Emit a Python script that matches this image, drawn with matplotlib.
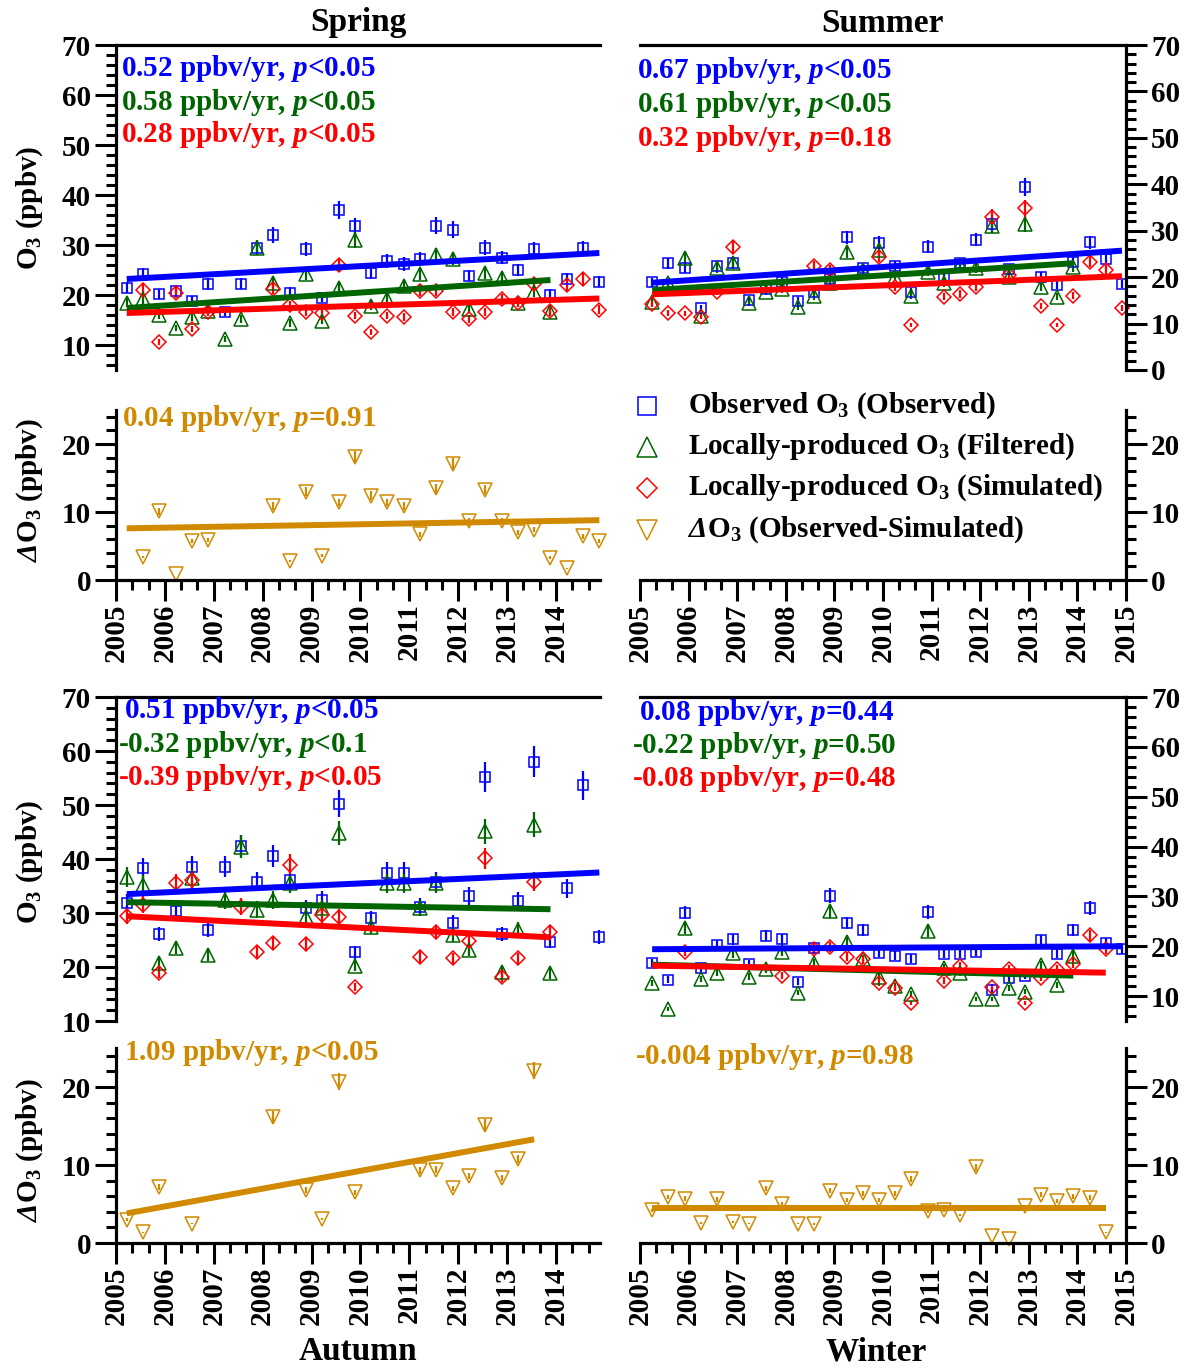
import numpy as np
import matplotlib
matplotlib.use("Agg")
import matplotlib.pyplot as plt
from matplotlib.ticker import MultipleLocator, FormatStrFormatter
from matplotlib.lines import Line2D

nan = np.nan

# ---------------- data ----------------
years = list(range(2005, 2015))
season_offset = {"Spring": 0.22, "Summer": 0.25, "Autumn": 0.22, "Winter": 0.25}

spring_obs = [21.5, 24.2, 20.2, 20.9, 18.9, 22.2, 16.6, 22.3, 29.5, 32.0, 20.5, 29.2, 19.5, 37.0, 33.8,
              24.5, 26.8, 26.2, 27.2, 33.9, 33.1, 23.9, 29.5, 27.5, 25.0, 29.2, 20.1, 23.3, 29.4, 22.7]
spring_filt = [18.5, 19.2, 16.1, 13.4, 15.6, 16.9, 11.2, 15.2, 29.5, 22.5, 14.4, 24.2, 14.9, 21.5, 31.0,
               17.9, 19.2, 21.9, 24.2, 28.0, 27.3, 17.2, 24.4, 23.5, 18.5, 20.6, 16.6, nan, nan, nan]
spring_sim = [nan, 21.1, 10.6, 20.5, 13.2, 16.6, nan, nan, nan, 21.2, 18.0, 16.6, 16.4, 26.0, 15.9,
              12.6, 15.9, 15.6, 20.9, 20.9, 16.6, 15.2, 16.6, 19.2, 18.5, 22.2, 16.9, 22.0, 23.2, 17.1]
spring_delta = [nan, 3.4, 10.1, 0.9, 5.8, 5.9, nan, nan, nan, 10.9, 2.8, 13.0, 3.6, 11.4, 18.1,
                12.4, 11.4, 10.9, 6.7, 13.5, 17.1, 8.7, 13.3, 8.7, 7.0, 7.4, 3.3, 1.7, 6.4, 5.8]

summer_obs = [18.9, 23.0, 21.9, 13.3, 22.3, 23.1, 15.1, 17.4, 19.0, 14.9, 16.9, 19.7, 28.6, 21.9, 27.4,
              22.4, 16.9, 26.6, 20.1, 23.0, 28.1, 31.4, 21.8, 39.4, 20.1, 18.3, 23.3, 27.5, 24.0, 18.5]
summer_filt = [14.7, 18.7, 24.1, 11.6, 21.9, 23.0, 14.4, 16.9, 17.4, 13.6, 15.9, 18.7, 25.4, 21.5, 25.9,
               20.1, 16.0, 21.2, 18.8, 22.6, 22.0, 31.0, 20.1, 31.4, 17.9, 15.8, 22.2, nan, nan, nan]
summer_sim = [14.2, 12.3, 12.2, 11.5, 16.9, 26.4, nan, nan, nan, nan, 22.4, 21.5, nan, nan, 24.4,
              17.9, 9.7, nan, 15.8, 16.4, 17.8, 33.0, 20.5, 34.8, 13.8, 9.7, 16.0, 23.3, 21.5, 13.4]
summer_delta = [nan] * 30

autumn_obs = [31.9, 38.3, 26.1, 30.4, 38.6, 26.9, 38.6, 42.4, 35.8, 40.6, 36.2, 30.9, 32.5, 50.2, 22.7,
              29.0, 37.5, 37.5, 31.2, 35.8, 28.2, 33.2, 55.2, 26.1, 32.3, 58.0, 24.7, 34.6, 53.7, 25.6]
autumn_filt = [36.7, 35.2, 20.7, 23.5, 36.4, 22.2, 32.4, 42.3, 30.6, 32.4, 35.5, 29.3, 30.9, 44.8, 20.2,
               27.5, 35.5, 35.5, 30.9, 35.5, 25.9, 23.1, 45.1, 19.1, 26.9, 46.3, 18.8, nan, nan, nan]
autumn_sim = [29.4, 31.5, 18.9, 35.5, 36.1, nan, nan, 31.2, 22.8, 24.5, 38.9, 24.2, 29.6, 29.3, 16.3,
              nan, nan, nan, 21.9, 26.5, 21.6, 24.8, 40.1, 18.2, 21.6, 35.8, 26.5, nan, nan, nan]
autumn_delta = [3.0, 1.4, 7.2, nan, 2.5, nan, nan, nan, nan, 16.1, nan, 6.8, 3.1, 20.7, 6.5,
                nan, nan, nan, 9.3, 9.4, 7.0, 8.6, 15.1, 8.3, 10.8, 22.1, nan, nan, nan, nan]

winter_obs = [16.7, 13.3, 26.7, 15.7, 20.2, 21.4, 16.4, 22.1, 21.4, 12.9, 19.7, 30.1, 24.6, 23.3, 18.7,
              18.1, 17.5, 26.9, 18.5, 18.5, 18.9, 11.2, 13.6, 14.1, 21.2, 18.5, 23.3, 27.6, 20.7, 19.5]
winter_filt = [12.6, 7.4, 23.7, 13.4, 14.7, 18.6, 13.9, 15.4, 18.9, 10.7, 16.6, 27.1, 20.9, 17.4, 13.9,
               12.1, 10.4, 23.1, 15.7, 14.7, 9.4, 9.4, 11.7, 10.9, 16.2, 12.2, 18.1, nan, nan, nan]
winter_sim = [nan, nan, 18.9, nan, nan, nan, nan, nan, 14.1, nan, 19.4, 19.9, 17.9, 17.4, 12.7,
              11.7, 8.6, nan, 13.1, 16.1, nan, 11.9, 15.5, 8.6, 13.7, 15.4, 16.4, 22.2, 19.5, nan]
winter_delta = [4.2, 5.9, 5.7, 2.6, 5.6, 2.7, 2.5, 7.0, 5.0, 2.5, 2.4, 6.7, 5.5, 6.4, 5.5,
                6.4, 8.2, 4.1, 4.2, 3.6, 9.7, 0.9, 0.5, 4.7, 6.2, 5.4, 6.0, 5.8, 1.4, nan]

# fitted trend lines: (value at first month, value at last valid month) for obs, filt, sim, delta
spring_trend = [(23.2, 28.4), (17.4, 23.0), (16.4, 19.3), (7.6, 8.8)]
summer_trend = [(18.8, 25.7), (17.2, 23.0), (16.3, 20.2), None]
autumn_trend = [(33.5, 37.5), (32.0, 30.7), (29.4, 25.5), (3.8, 13.3)]
winter_trend = [(19.4, 20.0), (16.3, 14.1), (16.1, 14.7), (4.5, 4.5)]

spring_text = ["0.52 ppbv/yr, $p$<0.05", "0.58 ppbv/yr, $p$<0.05", "0.28 ppbv/yr, $p$<0.05", "0.04 ppbv/yr, $p$=0.91"]
summer_text = ["0.67 ppbv/yr, $p$<0.05", "0.61 ppbv/yr, $p$<0.05", "0.32 ppbv/yr, $p$=0.18", None]
autumn_text = ["0.51 ppbv/yr, $p$<0.05", "-0.32 ppbv/yr, $p$<0.1", "-0.39 ppbv/yr, $p$<0.05", "1.09 ppbv/yr, $p$<0.05"]
winter_text = ["0.08 ppbv/yr, $p$=0.44", "-0.22 ppbv/yr, $p$=0.50", "-0.08 ppbv/yr, $p$=0.48", "-0.004 ppbv/yr, $p$=0.98"]

legend_labels = ["Observed O$_3$ (Observed)",
                 "Locally-produced O$_3$ (Filtered)",
                 "Locally-produced O$_3$ (Simulated)",
                 r"$\mathsf{\Delta}$O$_3$ (Observed-Simulated)"]

err_frac = 0.05

# ---------------- style ----------------
plt.rcParams.update({
    "font.family": ["Liberation Serif", "DejaVu Serif"],
    "font.weight": "bold",
    "mathtext.fontset": "custom",
    "mathtext.rm": "Liberation Serif:weight=bold",
    "mathtext.it": "Liberation Serif:style=italic:weight=bold",
    "mathtext.bf": "Liberation Serif:weight=bold",
    "mathtext.sf": "Liberation Serif:style=italic:weight=bold",
    "axes.unicode_minus": False,
})

C_OBS, C_FILT, C_SIM, C_DEL = "#0000FF", "#006400", "#FF0000", "#D18A00"
colors = [C_OBS, C_FILT, C_SIM, C_DEL]
markers = [("s", 7.6), ("^", 9.8), ("D", 7.2), ("v", 9.8)]

W, H = 1195, 1368
fig = plt.figure(figsize=(W / 100, H / 100), dpi=100)
FS = 21


def rect(l, t, r, b):
    return [l / W, 1 - b / H, (r - l) / W, (b - t) / H]


def season_x(name):
    return np.array([y + season_offset[name] + j / 3 for y in years for j in range(3)])


def style(ax, side, kind, ylim, xlim):
    ax.set_xlim(*xlim)
    ax.set_ylim(*ylim)
    ax.patch.set_alpha(0)
    for s in ax.spines.values():
        s.set_linewidth(2.3)
    ax.spines["right" if side == "left" else "left"].set_visible(False)
    if kind == "top":
        ax.spines["bottom"].set_visible(False)
        ax.tick_params(axis="x", which="both", bottom=False, top=False, labelbottom=False)
    else:
        ax.spines["top"].set_visible(False)
        ax.xaxis.set_major_locator(MultipleLocator(1))
        ax.xaxis.set_minor_locator(MultipleLocator(1 / 3))
        ax.xaxis.set_major_formatter(FormatStrFormatter("%d"))
        ax.tick_params(axis="x", which="major", direction="out", length=15, width=2.2, pad=2,
                       labelrotation=90, labelsize=FS)
        ax.tick_params(axis="x", which="minor", direction="out", length=7.5, width=2.2)
    ax.yaxis.set_major_locator(MultipleLocator(10))
    ax.yaxis.set_minor_locator(MultipleLocator(2))
    ax.yaxis.set_major_formatter(FormatStrFormatter("%d"))
    if side == "right":
        ax.yaxis.tick_right()
    ax.tick_params(axis="y", which="major", direction="out", length=15, width=2.2, pad=3, labelsize=FS)
    ax.tick_params(axis="y", which="minor", direction="out", length=7.5, width=2.2)


def plot_series(ax, x, vals, idx, trend):
    v = np.array(vals, dtype=float)
    ok = ~np.isnan(v)
    if ok.any():
        m, ms = markers[idx]
        ax.errorbar(x[ok], v[ok], yerr=err_frac * np.abs(v[ok]), fmt=m, ms=ms, mfc="none",
                    mec=colors[idx], mew=1.1, ecolor=colors[idx], elinewidth=1.6, capsize=0,
                    clip_on=False, zorder=2)
    if trend is not None and ok.any():
        last = np.where(ok)[0][-1]
        ax.plot([x[0], x[last]], [trend[0], trend[1]], color=colors[idx], lw=4.3,
                solid_capstyle="butt", zorder=3)


seasons = [
    ("Spring", "left", (116, 600), (45, 370), (410, 580), (5, 70),
     [spring_obs, spring_filt, spring_sim, spring_delta], spring_trend, spring_text, (2005, 2014.9)),
    ("Summer", "right", (640, 1126), (45, 370), (410, 580), (0, 70),
     [summer_obs, summer_filt, summer_sim, summer_delta], summer_trend, summer_text, (2005, 2015)),
    ("Autumn", "left", (116, 600), (697, 1021), (1048, 1243), (10, 70),
     [autumn_obs, autumn_filt, autumn_sim, autumn_delta], autumn_trend, autumn_text, (2005, 2014.9)),
    ("Winter", "right", (640, 1126), (697, 1021), (1048, 1243), (5, 70),
     [winter_obs, winter_filt, winter_sim, winter_delta], winter_trend, winter_text, (2005, 2015)),
]

# text positions (pixels): (x, y-center) for obs, filt, sim in top panel and delta in bottom
text_pos = {
    "Spring": [(121, 68), (121, 102), (121, 134), (122, 418)],
    "Summer": [(637, 71), (637, 105), (637, 139), None],
    "Autumn": [(124, 710), (118, 744), (118, 777), (124, 1052)],
    "Winter": [(639, 712), (632, 745), (632, 779), (635, 1057)],
}

for name, side, (l, r), (tt, tb), (bt, bb), ylim, series, trends, texts, xlim in seasons:
    x = season_x(name)
    ax_t = fig.add_axes(rect(l, tt, r, tb))
    ax_b = fig.add_axes(rect(l, bt, r, bb))
    style(ax_t, side, "top", ylim, xlim)
    style(ax_b, side, "bottom", (0, 25), xlim)
    for i in range(3):
        plot_series(ax_t, x, series[i], i, trends[i])
    plot_series(ax_b, x, series[3], 3, trends[3])
    for i, t in enumerate(texts):
        if t is None:
            continue
        px, py = text_pos[name][i]
        fig.text(px / W, 1 - py / H, t, color=colors[i], fontsize=FS, ha="left", va="center")

# y labels
for py, lab in [(208, "O$_3$ (ppbv)"), (490, r"$\mathsf{\Delta}$O$_3$ (ppbv)"),
                (862, "O$_3$ (ppbv)"), (1150, r"$\mathsf{\Delta}$O$_3$ (ppbv)")]:
    fig.text(30 / W, 1 - py / H, lab, rotation=90, fontsize=FS, ha="center", va="center")

# season titles
for px, py, lab in [(358, 23, "Spring"), (882, 23, "Summer"), (358, 1352, "Autumn"), (876, 1352, "Winter")]:
    fig.text(px / W, 1 - py / H, lab, fontsize=24, ha="center", va="center")

# legend (manual, in figure coordinates)
leg_ms = [("s", 13.5), ("^", 14), ("D", 9.8), ("v", 14)]
for i, (lab, yc) in enumerate(zip(legend_labels, [406, 447, 488, 530])):
    m, ms = leg_ms[i]
    fig.add_artist(Line2D([647 / W], [1 - yc / H], transform=fig.transFigure, ls="none",
                          marker=m, ms=ms, mfc="none", mec=colors[i], mew=1.1))
    fig.text(688 / W, 1 - yc / H, lab, fontsize=FS, ha="left", va="center")

fig.savefig("out.png", dpi=100)
